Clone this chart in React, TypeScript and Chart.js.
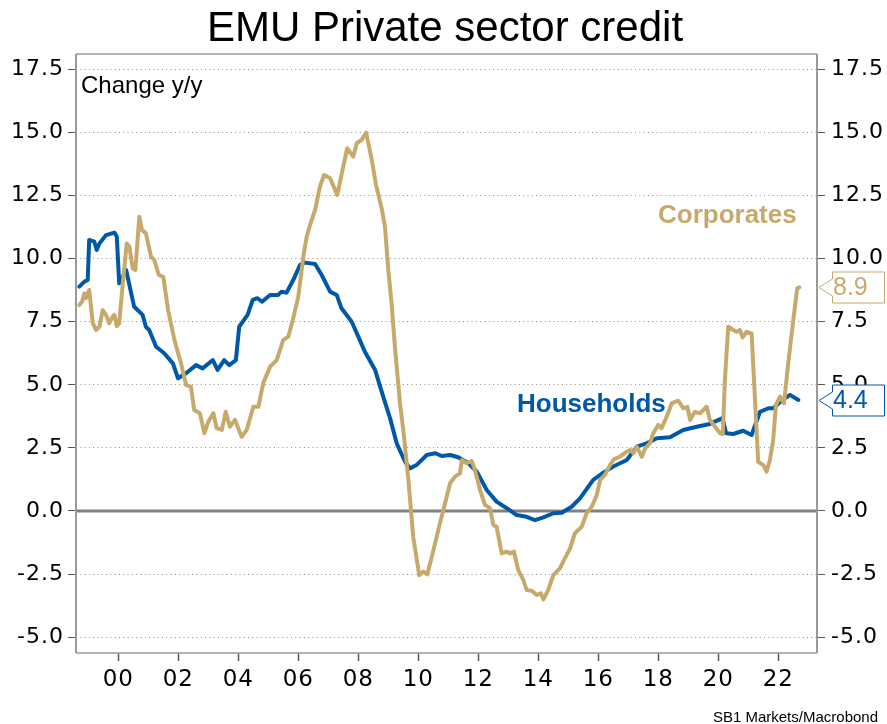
import React, { useEffect, useRef } from "react";
import { Chart, registerables } from "chart.js";

Chart.register(...registerables);

// ---- data ----
const householdYears = [
  1998.7, 1998.87, 1998.98, 1999.03, 1999.2, 1999.28, 1999.37, 1999.59, 1999.87, 1999.95,
  2000.03, 2000.26, 2000.53, 2000.81, 2000.92, 2001.03, 2001.26, 2001.53, 2001.82, 2001.99,
  2002.26, 2002.59, 2002.81, 2003.15, 2003.31, 2003.53, 2003.7, 2003.92, 2004.03, 2004.31,
  2004.48, 2004.64, 2004.79, 2005.06, 2005.33, 2005.44, 2005.61, 2005.83, 2006.06, 2006.22,
  2006.56, 2006.78, 2007.06, 2007.28, 2007.44, 2007.78, 2008.0, 2008.22, 2008.56, 2008.83,
  2009.06, 2009.28, 2009.56, 2009.72, 2009.94, 2010.28, 2010.56, 2010.78, 2011.06, 2011.33,
  2011.67, 2011.95, 2012.28, 2012.61, 2012.95, 2013.28, 2013.61, 2013.89, 2014.17, 2014.5,
  2014.78, 2015.11, 2015.39, 2015.83, 2016.17, 2016.5, 2016.95, 2017.28, 2017.61, 2017.95,
  2018.39, 2018.83, 2019.28, 2019.72, 2020.14, 2020.26, 2020.5, 2020.83, 2021.11, 2021.39,
  2021.67, 2021.83, 2022.11, 2022.39, 2022.67,
];
const householdValues = [
  8.89, 9.09, 9.15, 10.74, 10.67, 10.34, 10.6, 10.93, 11.03, 10.87,
  9.02, 9.55, 8.09, 7.77, 7.3, 7.17, 6.51, 6.25, 5.85, 5.26,
  5.46, 5.78, 5.65, 5.98, 5.59, 5.98, 5.78, 5.98, 7.3, 7.77,
  8.36, 8.43, 8.29, 8.56, 8.56, 8.69, 8.65, 9.15, 9.75, 9.84,
  9.79, 9.35, 8.69, 8.56, 8.03, 7.5, 6.91, 6.31, 5.59, 4.53,
  3.67, 2.68, 1.95, 1.69, 1.82, 2.22, 2.29, 2.18, 2.22, 2.13,
  1.89, 1.56, 0.83, 0.37, 0.11, -0.16, -0.23, -0.36, -0.25, -0.09,
  -0.07, 0.17, 0.5, 1.23, 1.52, 1.76, 2.02, 2.55, 2.68, 2.88,
  2.92, 3.21, 3.34, 3.45, 3.68, 3.08, 3.05, 3.18, 3.01, 3.93,
  4.07, 4.07, 4.37, 4.6, 4.4,
];

const corporateYears = [
  1998.7, 1998.79, 1998.87, 1998.92, 1999.03, 1999.15, 1999.26, 1999.37, 1999.48, 1999.59,
  1999.7, 1999.81, 1999.87, 1999.95, 2000.03, 2000.15, 2000.28, 2000.37, 2000.48, 2000.57,
  2000.7, 2000.79, 2000.92, 2001.09, 2001.2, 2001.35, 2001.5, 2001.66, 2001.87, 2002.09,
  2002.26, 2002.42, 2002.53, 2002.72, 2002.87, 2003.0, 2003.17, 2003.28, 2003.45, 2003.58,
  2003.72, 2003.89, 2004.11, 2004.28, 2004.5, 2004.67, 2004.83, 2005.06, 2005.28, 2005.5,
  2005.67, 2005.83, 2006.0, 2006.17, 2006.28, 2006.39, 2006.56, 2006.72, 2006.86, 2007.06,
  2007.3, 2007.45, 2007.63, 2007.83, 2007.95, 2008.11, 2008.26, 2008.45, 2008.59, 2008.78,
  2008.89, 2009.0, 2009.11, 2009.22, 2009.39, 2009.5, 2009.67, 2009.83, 2010.03, 2010.17,
  2010.3, 2010.45, 2010.72, 2010.89, 2011.06, 2011.22, 2011.39, 2011.45, 2011.61, 2011.78,
  2011.89, 2012.06, 2012.22, 2012.39, 2012.5, 2012.61, 2012.78, 2012.95, 2013.06, 2013.19,
  2013.33, 2013.5, 2013.61, 2013.78, 2013.95, 2014.08, 2014.17, 2014.33, 2014.5, 2014.72,
  2014.89, 2015.06, 2015.22, 2015.45, 2015.61, 2015.78, 2015.95, 2016.06, 2016.22, 2016.39,
  2016.52, 2016.72, 2016.95, 2017.06, 2017.17, 2017.28, 2017.45, 2017.56, 2017.72, 2017.83,
  2018.0, 2018.11, 2018.28, 2018.45, 2018.67, 2018.83, 2018.97, 2019.06, 2019.22, 2019.39,
  2019.61, 2019.72, 2019.89, 2020.06, 2020.15, 2020.22, 2020.33, 2020.5, 2020.61, 2020.72,
  2020.81, 2020.94, 2021.11, 2021.33, 2021.5, 2021.61, 2021.72, 2021.83, 2021.92, 2022.06,
  2022.19, 2022.33, 2022.5, 2022.63, 2022.7,
];
const corporateValues = [
  8.16, 8.29, 8.62, 8.43, 8.76, 7.44, 7.17, 7.3, 7.96, 7.77,
  7.44, 7.7, 7.77, 7.33, 7.44, 9.02, 10.6, 10.47, 9.61, 9.55,
  11.66, 11.13, 11.0, 10.08, 9.94, 9.35, 9.28, 7.96, 6.78, 5.85,
  4.99, 4.93, 4.0, 3.87, 3.08, 3.54, 3.87, 3.28, 3.21, 3.93,
  3.34, 3.61, 2.94, 3.21, 4.13, 4.13, 5.06, 5.72, 5.98, 6.78,
  6.91, 7.63, 8.49, 10.1, 10.87, 11.33, 11.93, 12.85, 13.31, 13.18,
  12.52, 13.38, 14.37, 14.04, 14.57, 14.7, 14.99, 13.91, 12.92, 11.99,
  11.26, 9.55, 8.23, 6.51, 4.27, 3.21, 1.23, -1.02, -2.54, -2.4,
  -2.51, -1.81, -0.49, 0.3, 1.1, 1.36, 1.49, 2.02, 1.89, 1.98,
  1.62, 0.83, 0.24, 0.11, -0.55, -0.62, -1.68, -1.61, -1.68, -1.61,
  -2.34, -2.73, -3.13, -3.16, -3.33, -3.26, -3.5, -3.13, -2.54, -2.27,
  -1.87, -1.48, -0.88, -0.62, -0.09, 0.17, 0.63, 1.23, 1.43, 1.82,
  2.05, 2.15, 2.35, 2.42, 2.29, 2.55, 2.15, 2.48, 2.68, 3.08,
  3.41, 3.28, 3.74, 4.27, 4.37, 4.07, 4.13, 3.61, 3.93, 3.87,
  4.13, 3.61, 3.34, 3.08, 3.05, 5.19, 7.3, 7.17, 7.1, 7.17,
  6.88, 7.1, 7.04, 1.95, 1.82, 1.56, 2.02, 2.81, 4.2, 4.53,
  4.27, 5.85, 7.57, 8.82, 8.86,
];

const xTickYears = [2000, 2002, 2004, 2006, 2008, 2010, 2012, 2014, 2016, 2018, 2020, 2022];
const xTickLabels = ["00", "02", "04", "06", "08", "10", "12", "14", "16", "18", "20", "22"];
const yTickValues = [-5, -2.5, 0, 2.5, 5, 7.5, 10, 12.5, 15, 17.5];

const TITLE = "EMU Private sector credit";
const UNIT_NOTE = "Change y/y";
const SOURCE = "SB1 Markets/Macrobond";
const SERIES_NAMES = ["Corporates", "Households"];

const X_MIN = 1998.59;
const X_MAX = 2023.29;
const Y_MIN = -5.626;
const Y_MAX = 18.106;

const BLUE = "#0058A8";
const GOLD = "#C8A96C";
const FONT = "'Liberation Sans', Arial, Helvetica, sans-serif";
const TICK_FONT = "'DejaVu Sans', Verdana, sans-serif";

export default function App() {
  const ref = useRef<HTMLCanvasElement | null>(null);

  useEffect(() => {
    const canvas = ref.current;
    if (!canvas) return;

    const decor = {
      id: "decor",
      beforeDraw(chart: any) {
        (chart.ctx as any).letterSpacing = "1px";
      },
      beforeDatasetsDraw(chart: any) {
        const ctx = chart.ctx;
        (ctx as any).letterSpacing = "0px";
        const { left, right, top, bottom } = chart.chartArea;
        const y0 = chart.scales.y.getPixelForValue(0);
        ctx.save();
        ctx.strokeStyle = "#808080";
        ctx.lineWidth = 3;
        ctx.beginPath();
        ctx.moveTo(left, y0);
        ctx.lineTo(right, y0);
        ctx.stroke();
        // frame
        ctx.strokeStyle = "#9a9a9a";
        ctx.lineWidth = 1.5;
        ctx.beginPath();
        ctx.moveTo(left, top);
        ctx.lineTo(right, top);
        ctx.moveTo(left, bottom);
        ctx.lineTo(right, bottom);
        ctx.stroke();
        ctx.lineWidth = 2;
        ctx.beginPath();
        ctx.moveTo(left, top);
        ctx.lineTo(left, bottom);
        ctx.moveTo(right, top);
        ctx.lineTo(right, bottom);
        ctx.stroke();
        ctx.restore();
      },
      afterDraw(chart: any) {
        const ctx = chart.ctx;
        (ctx as any).letterSpacing = "0px";
        const { left, right } = chart.chartArea;
        const yScale = chart.scales.y;
        ctx.save();
        // title
        ctx.fillStyle = "#000";
        ctx.font = `42px ${FONT}`;
        ctx.textAlign = "center";
        ctx.textBaseline = "alphabetic";
        ctx.fillText(TITLE, 445, 41);
        // unit note
        ctx.font = `24px ${FONT}`;
        ctx.textAlign = "left";
        ctx.fillText(UNIT_NOTE, left + 5, 93);
        // series labels
        ctx.font = `bold 26px ${FONT}`;
        ctx.fillStyle = GOLD;
        ctx.fillText(SERIES_NAMES[0], 658, 223);
        ctx.fillStyle = BLUE;
        ctx.fillText(SERIES_NAMES[1], 517, 412);
        // source
        ctx.fillStyle = "#000";
        ctx.font = `15px ${FONT}`;
        ctx.textAlign = "right";
        ctx.fillText(SOURCE, 878, 722);
        // value tags
        const tag = (value: number, color: string) => {
          const y = Math.round(yScale.getPixelForValue(value)) + 0.5;
          const tip = right + 2;
          const bx = right + 15.5;
          const rx = 884.5;
          ctx.beginPath();
          ctx.moveTo(tip, y);
          ctx.lineTo(bx, y - 8.5);
          ctx.lineTo(bx, y - 15.5);
          ctx.lineTo(rx, y - 15.5);
          ctx.lineTo(rx, y + 15.5);
          ctx.lineTo(bx, y + 15.5);
          ctx.lineTo(bx, y + 8.5);
          ctx.closePath();
          ctx.fillStyle = "#fff";
          ctx.fill();
          ctx.strokeStyle = color;
          ctx.lineWidth = 1;
          ctx.stroke();
          ctx.fillStyle = color;
          ctx.font = `25px ${FONT}`;
          ctx.textAlign = "left";
          ctx.textBaseline = "middle";
          ctx.fillText(value.toFixed(1), bx + 0.5, y + 1);
        };
        tag(corporateValues[corporateValues.length - 1], GOLD);
        tag(householdValues[householdValues.length - 1], BLUE);
        ctx.restore();
      },
    };

    const yTickCfg = {
      font: { family: TICK_FONT, size: 22 },
      color: "#000",
      callback: (v: any) => Number(v).toFixed(1),
    };

    const chart = new Chart(canvas, {
      type: "line",
      data: {
        datasets: [
          {
            label: SERIES_NAMES[0],
            data: corporateYears.map((x, i) => ({ x, y: corporateValues[i] })),
            borderColor: GOLD,
            borderWidth: 4,
            pointRadius: 0,
            tension: 0,
            borderJoinStyle: "round",
            borderCapStyle: "round",
          },
          {
            label: SERIES_NAMES[1],
            data: householdYears.map((x, i) => ({ x, y: householdValues[i] })),
            borderColor: BLUE,
            borderWidth: 4,
            pointRadius: 0,
            tension: 0,
            borderJoinStyle: "round",
            borderCapStyle: "round",
          },
        ],
      },
      options: {
        responsive: false,
        animation: false,
        devicePixelRatio: 1,
        layout: { padding: { top: 54, left: 0, right: 0, bottom: 0 } },
        plugins: {
          legend: { display: false },
          tooltip: { enabled: false },
          title: { display: false },
        },
        scales: {
          x: {
            type: "linear",
            min: X_MIN,
            max: X_MAX,
            afterBuildTicks: (s: any) => {
              s.ticks = xTickYears.map((v) => ({ value: v }));
            },
            afterFit: (s: any) => {
              s.height = 71;
            },
            grid: {
              drawOnChartArea: false,
              drawTicks: true,
              tickLength: 8,
              tickColor: "#555",
              tickWidth: 1.5,
            },
            border: { display: false },
            ticks: {
              autoSkip: false,
              maxRotation: 0,
              padding: 5,
              color: "#000",
              font: { family: TICK_FONT, size: 23 },
              callback: (_v: any, i: number) => xTickLabels[i],
            },
          },
          y: {
            position: "left",
            min: Y_MIN,
            max: Y_MAX,
            afterBuildTicks: (s: any) => {
              s.ticks = yTickValues.map((v) => ({ value: v }));
            },
            afterFit: (s: any) => {
              s.width = 76;
            },
            grid: {
              color: (c: any) => (c.tick && c.tick.value === 0 ? "rgba(0,0,0,0)" : "#8c8c8c"),
              lineWidth: 1,
              tickLength: 8,
              tickColor: "#555",
              tickWidth: 1,
            },
            border: { display: false, dash: [1, 3.3] },
            ticks: { ...yTickCfg, padding: 4 },
          },
          y2: {
            position: "right",
            min: Y_MIN,
            max: Y_MAX,
            afterBuildTicks: (s: any) => {
              s.ticks = yTickValues.map((v) => ({ value: v }));
            },
            afterFit: (s: any) => {
              s.width = 70;
            },
            grid: {
              drawOnChartArea: false,
              tickLength: 8,
              tickColor: "#555",
              tickWidth: 1,
            },
            border: { display: false },
            ticks: { ...yTickCfg, padding: 6 },
          },
        },
      } as any,
      plugins: [decor],
    });

    return () => chart.destroy();
  }, []);

  return (
    <div style={{ position: "absolute", left: 0, top: 0, width: 887, height: 724, background: "#fff" }}>
      <canvas ref={ref} width={887} height={724} style={{ display: "block", width: 887, height: 724 }} />
    </div>
  );
}
